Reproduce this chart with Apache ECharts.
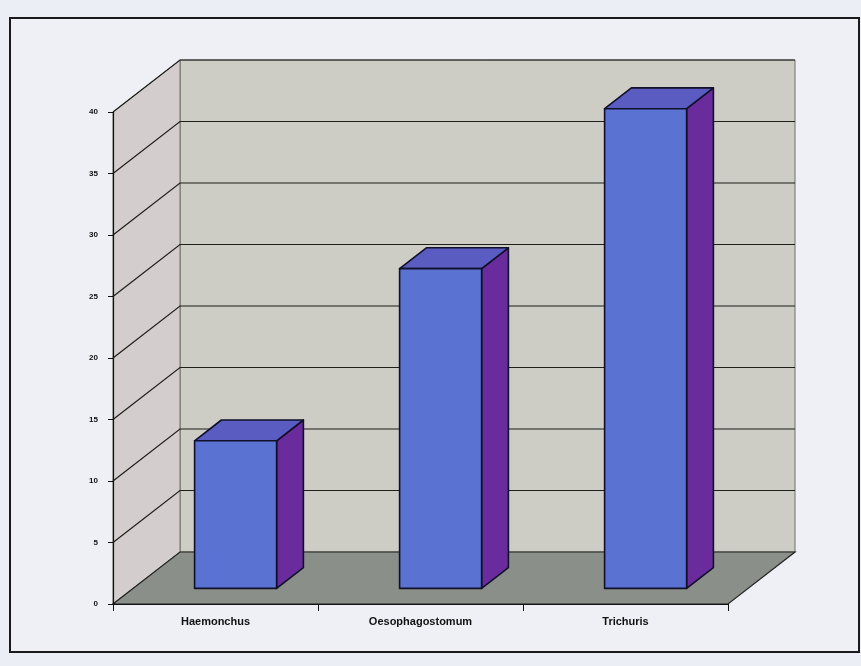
<!DOCTYPE html>
<html>
<head>
<meta charset="utf-8">
<script src="https://cdn.jsdelivr.net/npm/echarts@6/dist/echarts.min.js"></script>
<style>
  html, body { margin: 0; padding: 0; background: #eceef5; }
  #chart { width: 861px; height: 666px; }
</style>
</head>
<body>
<div id="chart"></div>
<script>
// Parasite counts per genus
const categories = ['Haemonchus', 'Oesophagostomum', 'Trichuris'];
const values = [12, 26, 39];
const valueTicks = [0, 5, 10, 15, 20, 25, 30, 35, 40];

// Pseudo-3D depth of the plot box, in pixels (x, y)
const DEPTH = [67, -52];
// Bars occupy this slice of the depth and this share of each category band
const BAR_FRONT = 0.3;
const BAR_BACK = 0.7;
const BAR_WIDTH = 0.4;

const AXIS_MIN = valueTicks[0];
const AXIS_MAX = valueTicks[valueTicks.length - 1];

function shift(p, f) {
  return [p[0] + DEPTH[0] * f, p[1] + DEPTH[1] * f];
}

const chart = echarts.init(document.getElementById('chart'));

// Back wall, left wall and floor of the box
const wallSeries = {
  type: 'custom',
  z: 1,
  silent: true,
  data: [[0, AXIS_MIN]],
  renderItem: function (params, api) {
    const cs = params.coordSys;
    const x0 = cs.x, x1 = cs.x + cs.width;
    const yb = api.coord([0, AXIS_MIN])[1];
    const yt = api.coord([0, AXIS_MAX])[1];
    return {
      type: 'group',
      children: [
        {
          type: 'polygon',
          shape: { points: [shift([x0, yt], 1), shift([x1, yt], 1), shift([x1, yb], 1), shift([x0, yb], 1)] },
          style: { fill: '#cdcdc5', stroke: '#6f6f6a', lineWidth: 1 }
        },
        {
          type: 'polygon',
          shape: { points: [[x0, yb], [x0, yt], shift([x0, yt], 1), shift([x0, yb], 1)] },
          style: { fill: '#d3cdcd', stroke: '#6f6f6a', lineWidth: 1 }
        },
        {
          type: 'polygon',
          shape: { points: [[x0, yb], [x1, yb], shift([x1, yb], 1), shift([x0, yb], 1)] },
          style: { fill: '#8b8f89', stroke: '#222', lineWidth: 1.2 }
        }
      ]
    };
  }
};

// Gridlines running across the left wall and the back wall
const gridSeries = {
  type: 'custom',
  z: 2,
  silent: true,
  data: valueTicks.filter(v => v > AXIS_MIN).map(v => [0, v]),
  renderItem: function (params, api) {
    const cs = params.coordSys;
    const x0 = cs.x, x1 = cs.x + cs.width;
    const y = api.coord([0, api.value(1)])[1];
    return {
      type: 'polyline',
      shape: { points: [[x0, y], shift([x0, y], 1), shift([x1, y], 1)] },
      style: { fill: 'none', stroke: '#1e1e1a', lineWidth: 1.2 }
    };
  }
};

// 3D columns: front, top and right faces
const barSeries = {
  type: 'custom',
  z: 3,
  data: values.map((v, i) => [i, v]),
  renderItem: function (params, api) {
    const i = api.value(0);
    const v = api.value(1);
    const top = api.coord([i, v]);
    const base = api.coord([i, AXIS_MIN]);
    const band = api.size([1, 0])[0];
    const w = band * BAR_WIDTH;
    const l = top[0] - w / 2, r = top[0] + w / 2;
    const fTL = shift([l, top[1]], BAR_FRONT);
    const fTR = shift([r, top[1]], BAR_FRONT);
    const fBR = shift([r, base[1]], BAR_FRONT);
    const fBL = shift([l, base[1]], BAR_FRONT);
    const bTL = shift([l, top[1]], BAR_BACK);
    const bTR = shift([r, top[1]], BAR_BACK);
    const bBR = shift([r, base[1]], BAR_BACK);
    const edge = { stroke: '#10102a', lineWidth: 1.6, lineJoin: 'round' };
    return {
      type: 'group',
      children: [
        { type: 'polygon', shape: { points: [fTR, bTR, bBR, fBR] }, style: Object.assign({ fill: '#6a2c9c' }, edge) },
        { type: 'polygon', shape: { points: [fTL, bTL, bTR, fTR] }, style: Object.assign({ fill: '#5b5cc2' }, edge) },
        { type: 'polygon', shape: { points: [fTL, fTR, fBR, fBL] }, style: Object.assign({ fill: '#5a72d2' }, edge) }
      ]
    };
  }
};

const option = {
  backgroundColor: '#eceef5',
  animation: false,
  graphic: [
    {
      type: 'rect',
      z: -10,
      shape: { x: 10, y: 18, width: 849, height: 634 },
      style: { fill: '#eef0f6', stroke: '#1a1a1a', lineWidth: 2 }
    }
  ],
  grid: { left: 113, right: 133, top: 112, bottom: 62 },
  xAxis: {
    type: 'category',
    data: categories,
    z: 5,
    axisLine: { show: true, lineStyle: { color: '#111', width: 1.2 } },
    axisTick: { show: true, length: 7, lineStyle: { color: '#111' } },
    axisLabel: {
      color: '#111',
      fontFamily: 'Liberation Sans, Arial, sans-serif',
      fontWeight: 'bold',
      fontSize: 11,
      margin: 12
    },
    splitLine: { show: false }
  },
  yAxis: {
    type: 'value',
    min: AXIS_MIN,
    max: AXIS_MAX,
    interval: 5,
    z: 5,
    axisLine: { show: true, lineStyle: { color: '#111', width: 1.2 } },
    axisTick: { show: true, length: 5, lineStyle: { color: '#111' } },
    axisLabel: {
      color: '#111',
      fontFamily: 'Liberation Sans, Arial, sans-serif',
      fontWeight: 'bold',
      fontSize: 8,
      margin: 15
    },
    splitLine: { show: false }
  },
  series: [wallSeries, gridSeries, barSeries]
};

chart.setOption(option);
</script>
</body>
</html>
